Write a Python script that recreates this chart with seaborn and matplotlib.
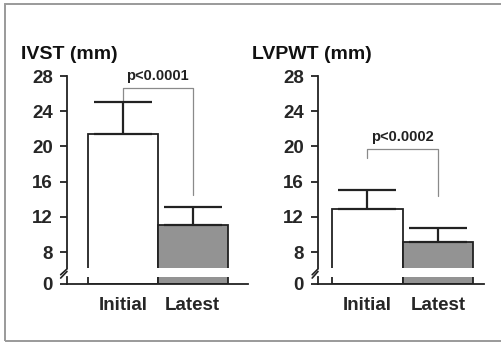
import matplotlib
matplotlib.use('Agg')
import matplotlib.pyplot as plt
import seaborn as sns
from matplotlib.patches import Rectangle

# --- data ---
groups = ['Initial', 'Latest']
ivst_mean = [21.4, 11.1]
ivst_sd = [3.7, 2.0]
lvpwt_mean = [12.9, 9.1]
lvpwt_sd = [2.1, 1.6]
yticks_top = [8, 12, 16, 20, 24, 28]
p_ivst = 'p<0.0001'
p_lvpwt = 'p<0.0002'

sns.set_style('white')
plt.rcParams['font.family'] = ['Liberation Sans', 'DejaVu Sans']

W, H = 501, 344
fig = plt.figure(figsize=(W / 100, H / 100), dpi=100)
fig.patch.set_facecolor('white')

# outer frame (right side runs off the picture)
fig.patches.append(Rectangle((5 / W, 3 / H), 1.2, 1 - 7 / H, transform=fig.transFigure,
                             fill=False, edgecolor='#9a9a9a', lw=1.4, zorder=0))

BREAK_LO = 6.2
BOT_HI = 0.75
colors = ['white', '#939393']
EDGE = '#222222'


def px(x0, y0, w, h):
    return [x0 / W, 1 - (y0 + h) / H, w / W, h / H]


def panel(x0, x1, xlim, means, sds, title, title_x, ptxt, bracket_y, left_drop, right_drop):
    top = fig.add_axes(px(x0, 76, x1 - x0, 268 - 76))
    bot = fig.add_axes(px(x0, 277.4, x1 - x0, 284 - 277.4))
    for ax in (top, bot):
        sns.barplot(x=groups, y=means, hue=groups, palette=colors, legend=False,
                    width=1.0, edgecolor=EDGE, linewidth=1.3, ax=ax)
        ax.set_xlim(*xlim)
        ax.spines[['top', 'right']].set_visible(False)
        ax.spines['left'].set_linewidth(1.3)
        ax.spines['left'].set_color(EDGE)
        ax.set_xlabel('')
        ax.set_ylabel('')
        ax.tick_params(axis='y', left=True, direction='out', length=5, width=1.3,
                       color=EDGE, pad=5, labelsize=13.5)

    top.set_ylim(BREAK_LO, 28)
    top.set_yticks(yticks_top)
    top.set_yticklabels([str(v) for v in yticks_top], fontweight='bold', fontsize=13.5)
    top.spines['bottom'].set_visible(False)
    top.tick_params(axis='x', bottom=False, labelbottom=False)
    top.errorbar([0, 1], means, yerr=[[0, 0], sds], fmt='none', ecolor=EDGE,
                 elinewidth=1.6, capsize=21, capthick=1.6, zorder=5)

    bot.set_ylim(0, BOT_HI)
    bot.set_yticks([0])
    bot.set_yticklabels(['0'], fontweight='bold', fontsize=13.5)
    bot.spines['bottom'].set_linewidth(1.3)
    bot.spines['bottom'].set_color(EDGE)
    bot.set_xticks([0, 1])
    bot.set_xticklabels(groups, fontweight='bold', fontsize=13.5)
    bot.tick_params(axis='x', bottom=False, pad=6)

    # break marks on the y axis
    top.plot([-0.035, 0.0], [-0.035, -0.005], transform=top.transAxes, color=EDGE,
             lw=1.2, clip_on=False)
    bot.plot([-0.035, 0.0], [0.9, 1.9], transform=bot.transAxes, color=EDGE,
             lw=1.2, clip_on=False)

    # significance bracket
    top.plot([0, 0, 1, 1], [left_drop, bracket_y, bracket_y, right_drop],
             color='#8a8a8a', lw=0.9, zorder=4)
    top.text(0.5, bracket_y + 0.6, ptxt, ha='center', va='bottom',
             fontsize=10.5, fontweight='bold', color='#222222')

    fig.text(title_x / W, 1 - 46 / H, title, ha='left', va='top',
             fontsize=14, fontweight='bold', color='#111111')


panel(67, 248, (-0.8, 1.79), ivst_mean, ivst_sd, 'IVST (mm)', 21,
      p_ivst, 26.6, ivst_mean[0] + ivst_sd[0], 14.5)
panel(318, 484, (-0.7, 1.65), lvpwt_mean, lvpwt_sd, 'LVPWT (mm)', 252,
      p_lvpwt, 19.7, 18.7, 14.4)

fig.savefig('out.png', dpi=100)
